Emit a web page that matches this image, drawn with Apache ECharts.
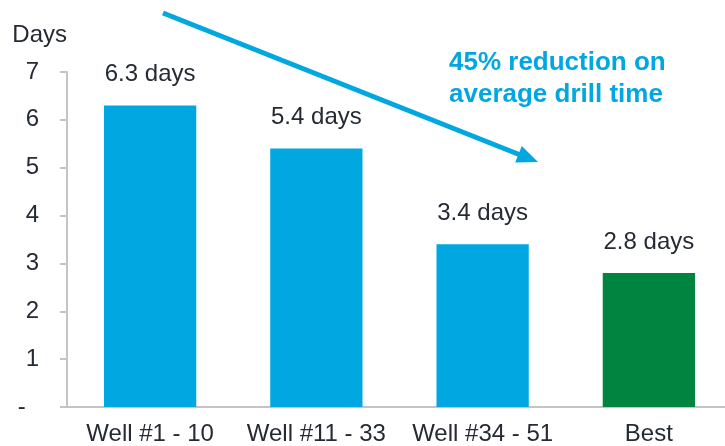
<!DOCTYPE html>
<html>
<head>
<meta charset="utf-8">
<script src="https://cdn.jsdelivr.net/npm/echarts@6/dist/echarts.min.js"></script>
<style>
html,body{margin:0;padding:0;background:#fff;overflow:hidden;}
#chart{width:745px;height:446px;}
</style>
</head>
<body>
<div id="chart"></div>
<script>
const categories = ['Well #1 - 10', 'Well #11 - 33', 'Well #34 - 51', 'Best'];
const drillDays = [6.3, 5.4, 3.4, 2.8];
const yTicks = [0, 1, 2, 3, 4, 5, 6, 7];
const annotationLines = ['45% reduction on', 'average drill time'];

const FONT = "'Liberation Sans', Arial, sans-serif";
const TEXT = '#252a33';
const BLUE = '#00a7e1';
const GREEN = '#00843f';
const AXIS = '#c4c4c4';

const chart = echarts.init(document.getElementById('chart'), null, {renderer: 'canvas'});

// arrow geometry (annotation, pixel space)
const ax1 = 163, ay1 = 13, tipX = 538, tipY = 162;
const dx = tipX - ax1, dy = tipY - ay1, len = Math.hypot(dx, dy);
const ux = dx / len, uy = dy / len;
const headLen = 21, headHalf = 9;
const bx = tipX - ux * headLen, by = tipY - uy * headLen;
const px = -uy, py = ux;

chart.setOption({
  animation: false,
  textStyle: {fontFamily: FONT},
  grid: {left: 67, top: 72, width: 665, height: 336, containLabel: false},
  xAxis: {
    type: 'category',
    data: categories,
    axisLine: {show: true, lineStyle: {color: AXIS, width: 2}},
    axisTick: {show: false},
    axisLabel: {color: TEXT, fontSize: 24, fontFamily: FONT, margin: 15, interval: 0}
  },
  yAxis: {
    type: 'value',
    min: yTicks[0],
    max: yTicks[yTicks.length - 1],
    interval: 1,
    name: 'Days',
    nameLocation: 'end',
    nameGap: 25,
    nameTextStyle: {color: TEXT, fontSize: 24, fontFamily: FONT, align: 'right'},
    splitLine: {show: false},
    axisLine: {show: true, lineStyle: {color: AXIS, width: 2}},
    axisTick: {show: true, length: 7, lineStyle: {color: AXIS, width: 2}},
    axisLabel: {
      color: TEXT, fontSize: 24, fontFamily: FONT, margin: 28,
      formatter: v => v === 0 ? '-  ' : String(v)
    }
  },
  series: [{
    type: 'bar',
    data: drillDays,
    barCategoryGap: '44.5%',
    itemStyle: {
      color: p => p.dataIndex === categories.length - 1 ? GREEN : BLUE
    },
    label: {
      show: true,
      position: 'top',
      distance: 19,
      color: TEXT,
      fontSize: 24,
      fontFamily: FONT,
      formatter: p => p.value + ' days'
    }
  }],
  graphic: [
    {
      type: 'line',
      shape: {x1: ax1, y1: ay1, x2: bx + ux * 2, y2: by + uy * 2},
      style: {stroke: BLUE, lineWidth: 5},
      silent: true
    },
    {
      type: 'polygon',
      shape: {points: [[tipX, tipY], [bx + px * headHalf, by + py * headHalf], [bx - px * headHalf, by - py * headHalf]]},
      style: {fill: BLUE},
      silent: true
    },
    {
      type: 'text',
      left: 449,
      top: 47,
      style: {
        text: annotationLines.join('\n'),
        fill: BLUE,
        font: 'bold 26px ' + FONT,
        lineHeight: 32
      },
      silent: true
    }
  ]
});
</script>
</body>
</html>
